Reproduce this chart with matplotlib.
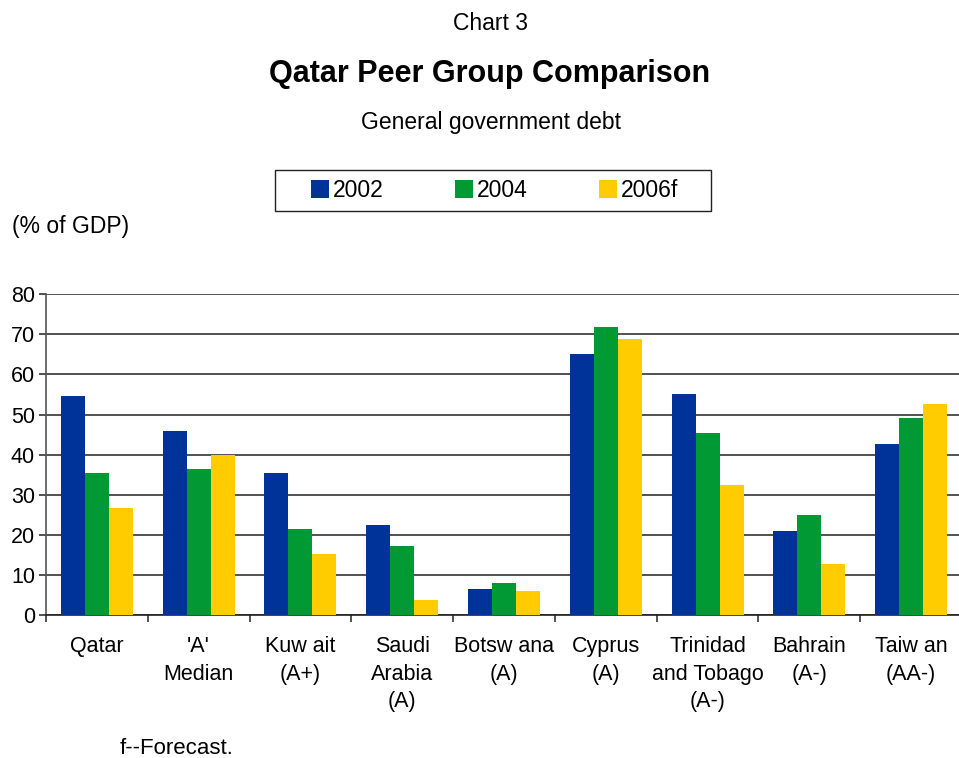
"""Qatar peer group comparison: general government debt bar chart."""

import matplotlib

matplotlib.use("Agg")
import matplotlib.pyplot as plt
from matplotlib.patches import Patch, Rectangle
import numpy as np

plt.rcParams["font.family"] = ["Liberation Sans", "DejaVu Sans"]

CATEGORIES = [
    "Qatar",
    "'A'\nMedian",
    "Kuw ait\n(A+)",
    "Saudi\nArabia\n(A)",
    "Botsw ana\n(A)",
    "Cyprus\n(A)",
    "Trinidad\nand Tobago\n(A-)",
    "Bahrain\n(A-)",
    "Taiw an\n(AA-)",
]
DEBT_2002 = [54.6, 45.9, 35.4, 22.5, 6.5, 65.1, 55.1, 21.0, 42.7]
DEBT_2004 = [35.4, 36.4, 21.5, 17.2, 8.0, 71.9, 45.4, 24.9, 49.1]
DEBT_2006F = [26.7, 39.8, 15.2, 3.7, 6.0, 68.9, 32.4, 12.7, 52.6]
SERIES_LABELS = ["2002", "2004", "2006f"]
COLORS = ["#003399", "#009933", "#FFCC00"]
Y_TICKS = [0, 10, 20, 30, 40, 50, 60, 70, 80]

W, H = 959, 758
fig = plt.figure(figsize=(W / 100, H / 100), dpi=100)
ax = fig.add_axes([46 / W, 1 - 615 / H, 916 / W, (615 - 294.3) / H])

x = np.arange(len(CATEGORIES))
bar_w = 0.236
for i, (vals, color) in enumerate(zip([DEBT_2002, DEBT_2004, DEBT_2006F], COLORS)):
    ax.bar(x + (i - 1) * bar_w, vals, width=bar_w, color=color, zorder=3)

ax.set_xlim(-0.5, len(CATEGORIES) - 0.5)
ax.set_ylim(0, 80)
ax.set_yticks(Y_TICKS)
ax.set_yticklabels([str(t) for t in Y_TICKS], fontsize=15.5)
ax.yaxis.grid(True, color="#333333", linewidth=1.2, zorder=0)
ax.set_axisbelow(True)

# category boundaries as tick marks, labels centered between them
ax.set_xticks(np.arange(len(CATEGORIES) + 1) - 0.5)
ax.set_xticklabels([])
ax.set_xticks(x, minor=True)
ax.set_xticklabels(CATEGORIES, minor=True, fontsize=15.5, linespacing=1.42, va="top")
ax.tick_params(axis="x", which="minor", length=0, pad=15)
ax.tick_params(axis="x", which="major", length=5, width=1.2, direction="out", color="#333333")
ax.tick_params(axis="y", length=5, width=1.2, color="#333333", pad=3)

for side in ["top", "right"]:
    ax.spines[side].set_visible(False)
ax.spines["left"].set_color("#555555")
ax.spines["left"].set_linewidth(1.2)
ax.spines["bottom"].set_color("#222222")
ax.spines["bottom"].set_linewidth(1.2)

fig.text(490 / W, 1 - 23 / H, "Chart 3", ha="center", va="center", fontsize=16.5)
fig.text(490 / W, 1 - 74 / H, "Qatar Peer Group Comparison", ha="center", va="center",
         fontsize=22, fontweight="bold")
fig.text(491 / W, 1 - 122 / H, "General government debt", ha="center", va="center", fontsize=16.5)
fig.text(12 / W, 1 - 227 / H, "(% of GDP)", ha="left", va="center", fontsize=16.5)
fig.text(120 / W, 1 - 748 / H, "f--Forecast.", ha="left", va="center", fontsize=16)

# legend box drawn separately so its padding matches the original
fig.patches.append(Rectangle((275 / W, 1 - 211 / H), 436 / W, 41 / H, transform=fig.transFigure,
                             facecolor="white", edgecolor="#222222", linewidth=1.0))
handles = [Patch(facecolor=c, edgecolor="none") for c in COLORS]
fig.legend(handles, SERIES_LABELS, loc="center left", bbox_to_anchor=(311 / W, 1 - 190.5 / H),
           ncol=3, fontsize=16.5, frameon=False, handlelength=0.8, handleheight=0.8,
           handletextpad=0.16, columnspacing=3.1, borderpad=0, borderaxespad=0)

fig.savefig("out.png", dpi=100)
